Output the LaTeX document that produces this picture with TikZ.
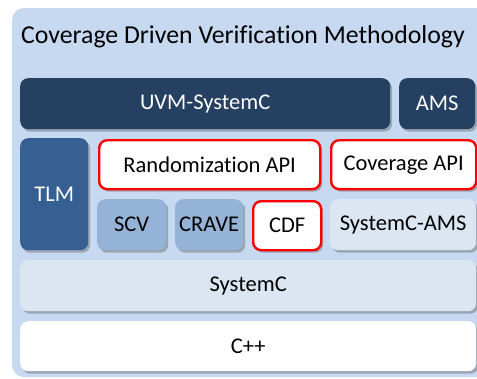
\documentclass[tikz,border=0pt]{standalone}
\usepackage{fontspec}
\setmainfont{Carlito}[Ligatures={NoCommon}]
\usetikzlibrary{shadows}
\definecolor{outerc}{HTML}{C6D9F1}
\definecolor{navy}{HTML}{254061}
\definecolor{tlmc}{HTML}{366092}
\definecolor{midc}{HTML}{95B3D7}
\definecolor{lightc}{HTML}{DCE6F2}
\definecolor{redc}{HTML}{FF0000}
\tikzset{
  box/.style={rectangle, rounded corners=8bp, anchor=north west, inner sep=0pt,
    font=\fontsize{22.5bp}{26bp}\selectfont,
    drop shadow={shadow xshift=2bp, shadow yshift=-2.5bp, opacity=0.45, fill=black!60}},
  darkbox/.style={box, fill=navy, text=white},
  tlmbox/.style={box, fill=tlmc, text=white},
  midbox/.style={box, fill=midc, text=black},
  lightbox/.style={box, fill=lightc, text=black},
  whitebox/.style={box, fill=white, text=black},
  redbox/.style={box, fill=white, text=black, draw=redc, line width=2.4bp},
}
\begin{document}
\begin{tikzpicture}[x=1bp, y=-1bp]
\useasboundingbox (0,0) rectangle (477,378);
\fill[outerc, rounded corners=12bp] (12,8) rectangle (490,377);
\node[anchor=base, font=\fontsize{25.8bp}{30bp}\selectfont] (title) at (243,43) {Coverage Driven Verification Methodology};
\node[darkbox, minimum width=370bp, minimum height=51bp] (uvm) at (20,78) {UVM-SystemC};
\node[darkbox, minimum width=76bp, minimum height=51bp] (ams) at (399,78) {AMS};
\node[tlmbox, minimum width=68bp, minimum height=112bp] (tlm) at (20,138) {TLM};
\node[redbox, minimum width=221bp, minimum height=49bp] (rand) at (98,139) {Randomization API};
\node[redbox, minimum width=145bp, minimum height=49bp] (cov) at (330,139) {Coverage API};
\node[midbox, minimum width=69bp, minimum height=51bp] (scv) at (97,199) {SCV};
\node[midbox, minimum width=68bp, minimum height=51bp] (crave) at (175,199) {CRAVE};
\node[redbox, minimum width=68bp, minimum height=49bp] (cdf) at (252,200) {CDF};
\node[lightbox, minimum width=146bp, minimum height=51bp] (scams) at (330,199) {SystemC-AMS};
\node[lightbox, minimum width=456bp, minimum height=51bp] (sysc) at (20,260) {SystemC};
\node[whitebox, minimum width=456bp, minimum height=50bp] (cpp) at (20,321) {C++};
\end{tikzpicture}
\end{document}
